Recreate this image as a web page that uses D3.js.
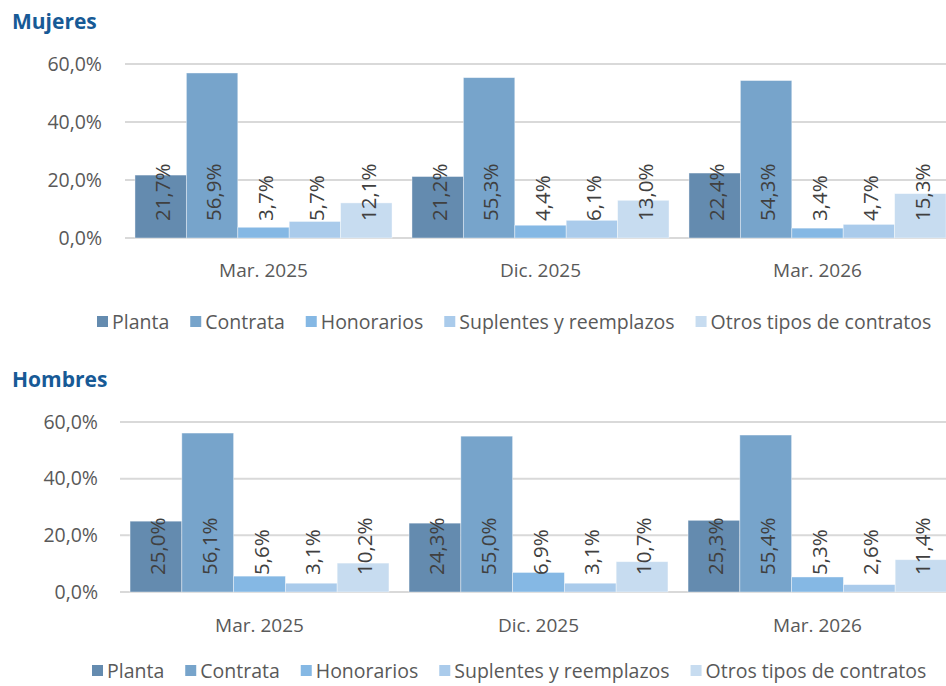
<!DOCTYPE html>
<html>
<head>
<meta charset="utf-8">
<script src="https://cdn.jsdelivr.net/npm/d3@7"></script>
<style>
  body { margin: 0; background: #fff; }
  svg { display: block; font-family: 'Open Sans', sans-serif; }
</style>
</head>
<body>
<svg id="chart"></svg>
<script>
// data
var categories = ['Mar. 2025', 'Dic. 2025', 'Mar. 2026'];
var series = ['Planta', 'Contrata', 'Honorarios', 'Suplentes y reemplazos', 'Otros tipos de contratos'];
var colors = ['#648baf', '#77a4cb', '#85b8e4', '#aacbeb', '#c7dcf0'];

// values per category, in the order of the series
var mujeres = [
	[21.7, 56.9, 3.7, 5.7, 12.1],
	[21.2, 55.3, 4.4, 6.1, 13.0],
	[22.4, 54.3, 3.4, 4.7, 15.3]
];
var hombres = [
	[25.0, 56.1, 5.6, 3.1, 10.2],
	[24.3, 55.0, 6.9, 3.1, 10.7],
	[25.3, 55.4, 5.3, 2.6, 11.4]
];
var yTicks = [0, 20, 40, 60];

var width = 946;
var height = 686;

var svg = d3.select('#chart')
	.attr('width', width)
	.attr('height', height);

// format numbers like 21,7%
function fmt(v) {
	return v.toFixed(1).replace('.', ',') + '%';
}

function panel(title, values, lay) {
	var g = svg.append('g');

	g.append('text')
		.attr('x', 12)
		.attr('y', lay.titleY)
		.attr('fill', '#175a96')
		.style('font-size', '21px')
		.style('font-weight', 'bold')
		.text(title);

	var y = d3.scaleLinear()
		.domain([0, 60])
		.range([lay.bottom, lay.top]);

	var x0 = d3.scaleBand()
		.domain(categories)
		.range(lay.xRange)
		.paddingInner(0.072)
		.paddingOuter(0.036);

	var x1 = d3.scaleBand()
		.domain(series)
		.range([0, x0.bandwidth()]);

	// gridlines
	g.selectAll('.grid')
		.data(yTicks)
		.enter().append('line')
		.attr('x1', lay.xRange[0])
		.attr('x2', width)
		.attr('y1', function(d) { return y(d); })
		.attr('y2', function(d) { return y(d); })
		.attr('stroke', '#d9d9d9')
		.attr('stroke-width', 2);

	// y tick labels
	g.selectAll('.ytick')
		.data(yTicks)
		.enter().append('text')
		.attr('x', lay.tickX)
		.attr('y', function(d) { return y(d); })
		.attr('dy', '0.35em')
		.attr('text-anchor', 'end')
		.attr('fill', '#595959')
		.style('font-size', '19.5px')
		.text(function(d) { return d.toFixed(1).replace('.', ',') + '%'; });

	var groups = g.selectAll('.cat')
		.data(categories)
		.enter().append('g')
		.attr('transform', function(d) { return 'translate(' + x0(d) + ',0)'; });

	groups.selectAll('rect')
		.data(function(d, i) {
			return series.map(function(s, j) { return { s: s, v: values[i][j], j: j }; });
		})
		.enter().append('rect')
		.attr('x', function(d) { return x1(d.s); })
		.attr('width', x1.bandwidth())
		.attr('y', function(d) { return y(d.v); })
		.attr('height', function(d) { return y(0) - y(d.v); })
		.attr('fill', function(d) { return colors[d.j]; })
		.attr('stroke', '#ffffff')
		.attr('stroke-opacity', 0.5)
		.attr('stroke-width', 0.8);

	// value labels, inside base, rotated
	groups.selectAll('.lbl')
		.data(function(d, i) {
			return series.map(function(s, j) { return { s: s, v: values[i][j] }; });
		})
		.enter().append('text')
		.attr('transform', function(d) {
			return 'translate(' + (x1(d.s) + x1.bandwidth() / 2 + 2) + ',' + (y(0) - 17) + ') rotate(-90)';
		})
		.attr('dy', '0.35em')
		.attr('fill', '#404040')
		.style('font-size', '20.5px')
		.text(function(d) { return fmt(d.v); });

	// category labels
	g.selectAll('.xlab')
		.data(categories)
		.enter().append('text')
		.attr('x', function(d) { return x0(d) + x0.bandwidth() / 2; })
		.attr('y', lay.xLabelY)
		.attr('text-anchor', 'middle')
		.attr('fill', '#595959')
		.style('font-size', '19px')
		.text(function(d) { return d; });

	// legend, laid out left to right
	var lx = lay.legendX;
	series.forEach(function(s, j) {
		g.append('rect')
			.attr('x', lx)
			.attr('y', lay.legendY - 6)
			.attr('width', 11)
			.attr('height', 11)
			.attr('fill', colors[j]);
		var t = g.append('text')
			.attr('x', lx + 15)
			.attr('y', lay.legendY)
			.attr('dy', '0.35em')
			.attr('fill', '#595959')
			.style('font-size', '19.5px')
			.text(s);
		lx += 15 + t.node().getComputedTextLength() + 21;
	});
}

panel('Mujeres', mujeres, {
	titleY: 29, top: 64, bottom: 238, xRange: [125, 956],
	tickX: 102, xLabelY: 277, legendX: 97, legendY: 322
});

panel('Hombres', hombres, {
	titleY: 387, top: 422, bottom: 592, xRange: [120, 957],
	tickX: 98, xLabelY: 632, legendX: 92, legendY: 671
});
</script>
</body>
</html>
